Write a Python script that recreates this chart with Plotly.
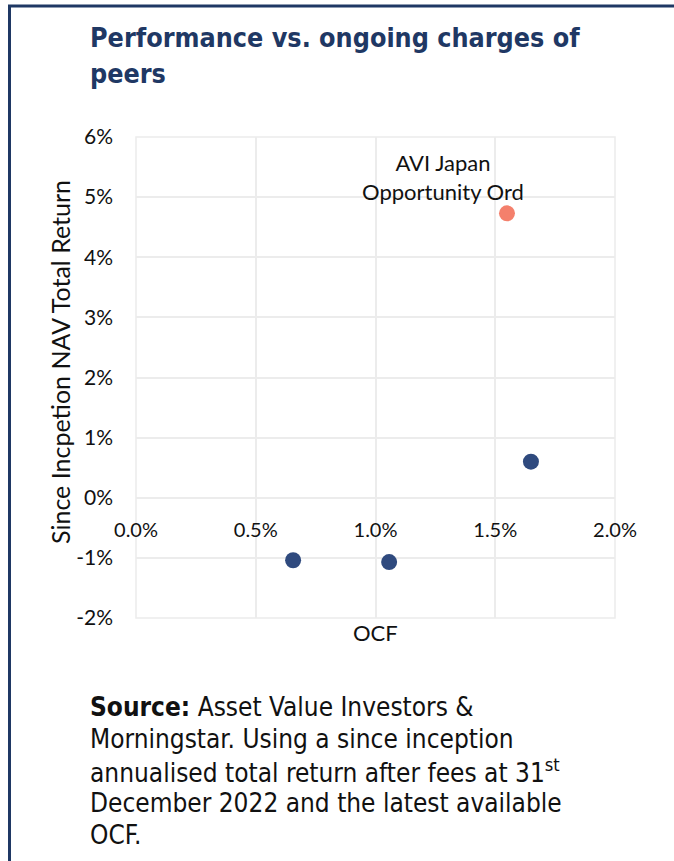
import plotly.graph_objects as go

# ---- data ----
ocf_peers = [0.00656, 0.01057, 0.01649]
ret_peers = [-0.0104, -0.0107, 0.0060]
ocf_avi = [0.01549]
ret_avi = [0.0473]
avi_label = "AVI Japan<br>Opportunity Ord"
x_ticks = [0.0, 0.005, 0.01, 0.015, 0.02]
x_labels = ["0.0%", "0.5%", "1.0%", "1.5%", "2.0%"]
y_ticks = [-0.02, -0.01, 0.0, 0.01, 0.02, 0.03, 0.04, 0.05, 0.06]
y_labels = ["-2%", "-1%", "0%", "1%", "2%", "3%", "4%", "5%", "6%"]

title_lines = ["Performance vs. ongoing charges of", "peers"]
note_lines = [
    "<b>Source:</b> Asset Value Investors &",
    "Morningstar. Using a since inception",
    "annualised total return after fees at 31<sup>st</sup>",
    "December 2022 and the latest available",
    "OCF.",
]

# ---- layout geometry (pixels) ----
W, H = 674, 861
L, R, T, B = 136, 59, 137, 243
PW, PH = W - L - R, H - T - B


def px(xp):
    return (xp - L) / PW


def py(yp):
    return (H - B - yp) / PH


NAVY = "#1F3864"
BLUE = "#2F4A7E"
ORANGE = "#F4806C"
GRID = "#ECECEC"
TXT = "#111111"
FONT = "Lato"
TFONT = "Liberation Sans Narrow, DejaVu Sans Condensed, Roboto, sans-serif"

fig = go.Figure()
fig.add_trace(go.Scatter(x=ocf_peers, y=ret_peers, mode="markers",
                         marker=dict(size=16, color=BLUE), showlegend=False,
                         hoverinfo="skip"))
fig.add_trace(go.Scatter(x=ocf_avi, y=ret_avi, mode="markers",
                         marker=dict(size=16, color=ORANGE), showlegend=False,
                         hoverinfo="skip"))

ann = []
ann.append(dict(x=ocf_avi[0], y=ret_avi[0], xref="x", yref="y", text=avi_label,
                showarrow=False, xanchor="center", yanchor="bottom",
                xshift=-64, yshift=6, font=dict(family=FONT, size=22, color=TXT)))
ann.append(dict(x=px(60), y=py(362), xref="paper", yref="paper",
                text="Since Incpetion NAV Total Return", textangle=-90,
                showarrow=False, xanchor="center", yanchor="middle",
                font=dict(family=FONT, size=25, color=TXT)))
ann.append(dict(x=0.5, y=py(632), xref="paper", yref="paper", text="OCF",
                showarrow=False, xanchor="center", yanchor="middle",
                font=dict(family=FONT, size=22, color=TXT)))
for i, t in enumerate(title_lines):
    ann.append(dict(x=px(88), y=py(37 + 37 * i), xref="paper", yref="paper",
                    text="<b>" + t + "</b>", showarrow=False, xanchor="left",
                    yanchor="middle", font=dict(family=TFONT, size=26.7, color=NAVY)))
for i, t in enumerate(note_lines):
    ann.append(dict(x=px(88), y=py(707 + 32 * i), xref="paper", yref="paper",
                    text=t, showarrow=False, xanchor="left", yanchor="middle",
                    font=dict(family=TFONT, size=26, color=TXT)))

shapes = [
    dict(type="rect", xref="paper", yref="paper", x0=0, x1=1, y0=0, y1=1,
         line=dict(color=GRID, width=1.5), layer="below"),
    dict(type="line", xref="paper", yref="paper", x0=px(9.5), x1=px(9.5),
         y0=py(5), y1=py(861), line=dict(color=NAVY, width=3)),
    dict(type="line", xref="paper", yref="paper", x0=px(8), x1=px(674),
         y0=py(6), y1=py(6), line=dict(color=NAVY, width=3)),
]

fig.update_layout(
    width=W, height=H, margin=dict(l=L, r=R, t=T, b=B, autoexpand=False),
    paper_bgcolor="white", plot_bgcolor="white",
    annotations=ann, shapes=shapes,
    xaxis=dict(range=[0, 0.02], tickvals=x_ticks, ticktext=x_labels,
               showgrid=True, gridcolor=GRID, gridwidth=1.5, zeroline=False,
               showline=False, anchor="free", position=0.25, ticks="",
               ticklabelstandoff=18, fixedrange=True,
               tickfont=dict(family=FONT, size=20, color=TXT)),
    yaxis=dict(range=[-0.02, 0.06], tickvals=y_ticks, ticktext=y_labels,
               showgrid=True, gridcolor=GRID, gridwidth=1.5, zeroline=False,
               showline=False, ticks="", ticklabelstandoff=22, fixedrange=True,
               tickfont=dict(family=FONT, size=21, color=TXT)),
)

fig.write_html("out.html", config={"displayModeBar": False},
               post_script="document.body.style.margin='0px';")
